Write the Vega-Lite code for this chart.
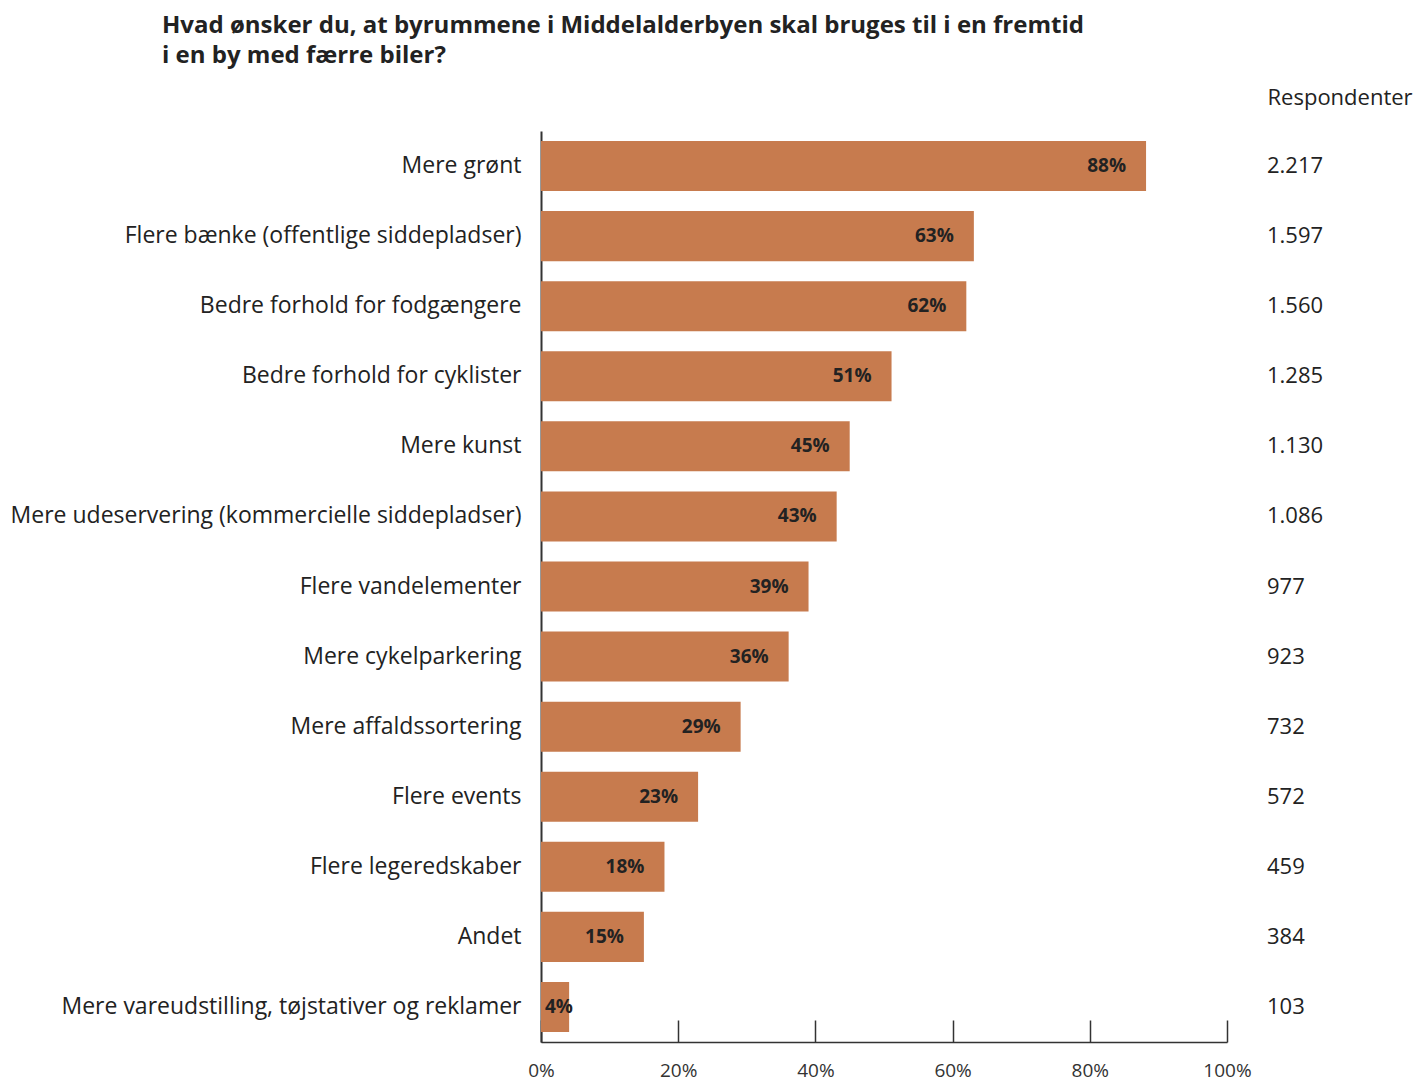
{
  "$schema": "https://vega.github.io/schema/vega-lite/v6.json",
  "width": 686,
  "height": 911,
  "padding": {"left": 10, "top": 14, "right": 0, "bottom": 0},
  "background": "white",
  "title": {
    "text": ["Hvad ønsker du, at byrummene i Middelalderbyen skal bruges til i en fremtid", "i en by med færre biler?"],
    "anchor": "start",
    "frame": "group",
    "dx": -379,
    "fontSize": 24,
    "font": "Open Sans",
    "fontWeight": "bold",
    "color": "#222222",
    "lineHeight": 30,
    "offset": 18
  },
  "config": {"view": {"stroke": null}, "font": "Open Sans"},
  "data": {
    "values": [
      {"cat": "Mere grønt", "pct": 0.882, "resp": "2.217"},
      {"cat": "Flere bænke (offentlige siddepladser)", "pct": 0.631, "resp": "1.597"},
      {"cat": "Bedre forhold for fodgængere", "pct": 0.620, "resp": "1.560"},
      {"cat": "Bedre forhold for cyklister", "pct": 0.511, "resp": "1.285"},
      {"cat": "Mere kunst", "pct": 0.450, "resp": "1.130"},
      {"cat": "Mere udeservering (kommercielle siddepladser)", "pct": 0.431, "resp": "1.086"},
      {"cat": "Flere vandelementer", "pct": 0.390, "resp": "977"},
      {"cat": "Mere cykelparkering", "pct": 0.361, "resp": "923"},
      {"cat": "Mere affaldssortering", "pct": 0.291, "resp": "732"},
      {"cat": "Flere events", "pct": 0.229, "resp": "572"},
      {"cat": "Flere legeredskaber", "pct": 0.180, "resp": "459"},
      {"cat": "Andet", "pct": 0.150, "resp": "384"},
      {"cat": "Mere vareudstilling, tøjstativer og reklamer", "pct": 0.041, "resp": "103"}
    ]
  },
  "layer": [
    {
      "encoding": {
        "y": {
          "field": "cat",
          "type": "nominal",
          "sort": ["Mere grønt", "Flere bænke (offentlige siddepladser)", "Bedre forhold for fodgængere", "Bedre forhold for cyklister", "Mere kunst", "Mere udeservering (kommercielle siddepladser)", "Flere vandelementer", "Mere cykelparkering", "Mere affaldssortering", "Flere events", "Flere legeredskaber", "Andet", "Mere vareudstilling, tøjstativer og reklamer"],
          "scale": {"paddingInner": 0.286, "paddingOuter": 0.143},
          "axis": {
            "title": null,
            "domain": true,
            "domainColor": "#333333",
            "domainWidth": 2,
            "ticks": false,
            "labelFontSize": 23,
            "labelPadding": 20,
            "labelColor": "#222222",
            "labelLimit": 0,
            "labelFont": "Open Sans"
          }
        }
      },
      "layer": [
        {
          "mark": {"type": "bar", "color": "#C77B4E"},
          "encoding": {
            "x": {
              "field": "pct",
              "type": "quantitative",
              "scale": {"domain": [0, 1], "nice": false},
              "axis": {
                "title": null,
                "format": ".0%",
                "values": [0, 0.2, 0.4, 0.6, 0.8, 1],
                "grid": false,
                "labelFlush": false,
                "tickSize": -22,
                "tickColor": "#333333",
                "tickWidth": 1.5,
                "domainColor": "#333333",
                "domainWidth": 1.5,
                "labelFontSize": 19,
                "labelPadding": 41,
                "labelColor": "#333333"
              }
            }
          }
        },
        {
          "transform": [{"filter": "datum.pct >= 0.1"}],
          "mark": {"type": "text", "align": "right", "baseline": "middle", "dx": -20, "fontSize": 19, "fontWeight": "bold", "color": "#222222"},
          "encoding": {
            "x": {"field": "pct", "type": "quantitative"},
            "text": {"field": "pct", "type": "quantitative", "format": ".0%"}
          }
        },
        {
          "transform": [{"filter": "datum.pct < 0.1"}],
          "mark": {"type": "text", "align": "left", "baseline": "middle", "dx": 4, "fontSize": 19, "fontWeight": "bold", "color": "#222222"},
          "encoding": {
            "x": {"datum": 0},
            "text": {"field": "pct", "type": "quantitative", "format": ".0%"}
          }
        }
      ]
    },
    {
      "mark": {"type": "text", "align": "left", "baseline": "middle", "dx": 40, "fontSize": 22, "color": "#222222"},
      "encoding": {
        "y": {
          "field": "resp",
          "type": "nominal",
          "sort": ["2.217", "1.597", "1.560", "1.285", "1.130", "1.086", "977", "923", "732", "572", "459", "384", "103"],
          "scale": {"paddingInner": 0.286, "paddingOuter": 0.143},
          "axis": {
            "orient": "right",
            "domain": false,
            "ticks": false,
            "labels": false,
            "title": "Respondenter",
            "titleAngle": 0,
            "titleAlign": "left",
            "titleBaseline": "alphabetic",
            "titleX": 40,
            "titleY": -27,
            "titleFontSize": 22,
            "titleFontWeight": "normal",
            "titleColor": "#222222"
          }
        },
        "x": {"datum": 1},
        "text": {"field": "resp"}
      }
    }
  ],
  "resolve": {"scale": {"y": "independent"}}
}
